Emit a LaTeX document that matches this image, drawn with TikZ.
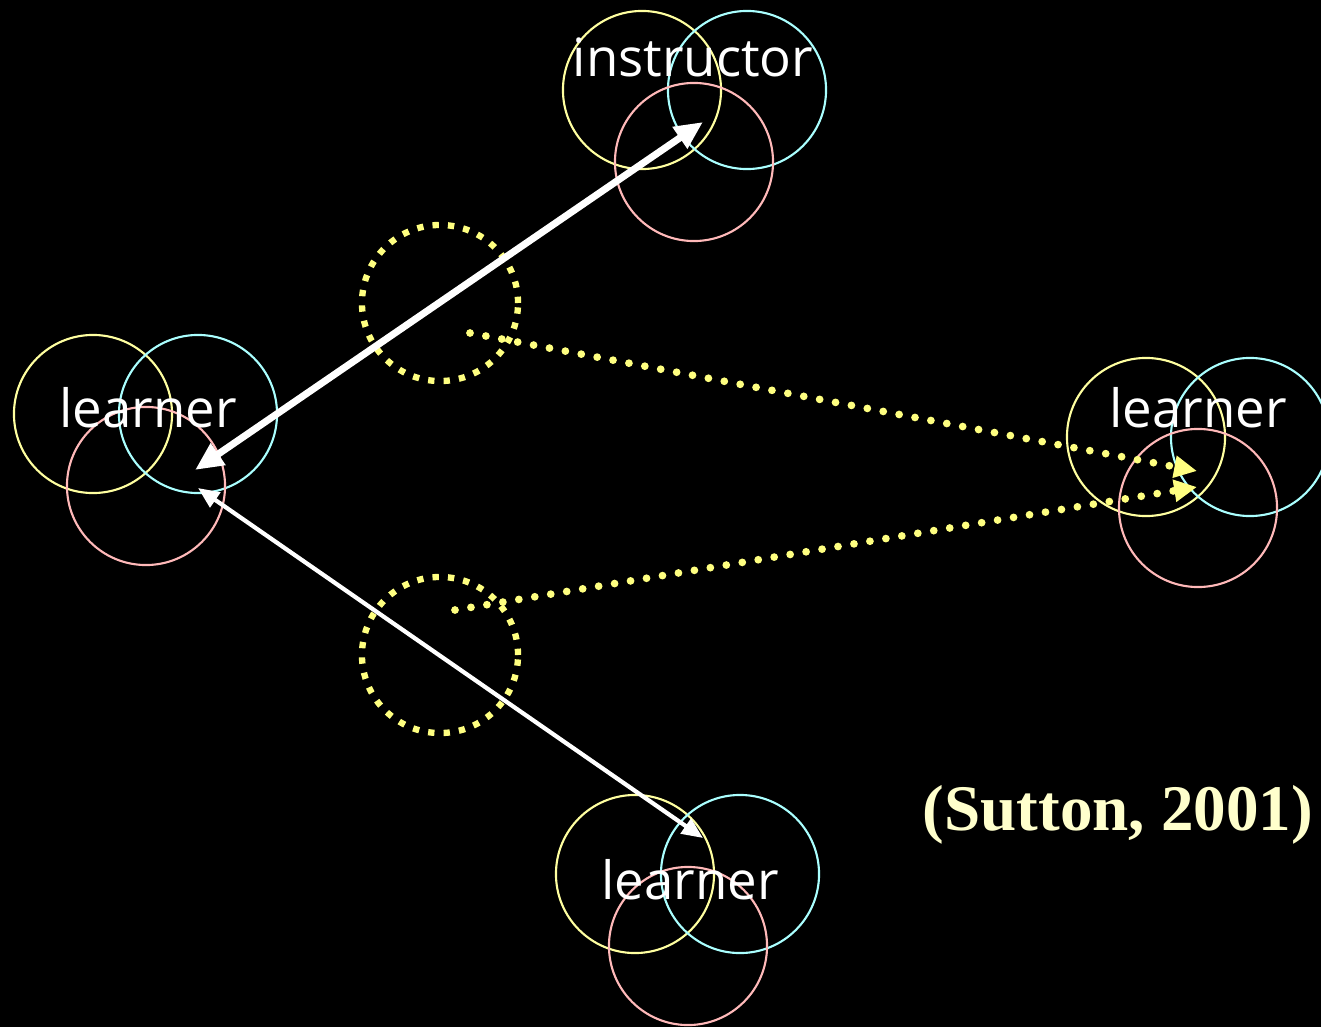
\documentclass[tikz,border=0pt]{standalone}
\usepackage{fontspec}
\setsansfont{Open Sans}
\newfontfamily\citefont{Liberation Serif}
\usepackage{tikz}
\usetikzlibrary{arrows.meta, positioning}
\definecolor{ringyel}{RGB}{255,255,160}
\definecolor{ringcyan}{RGB}{170,255,255}
\definecolor{ringpink}{RGB}{255,185,185}
\definecolor{dotyel}{RGB}{255,255,128}
\definecolor{citeyel}{RGB}{255,255,204}
\tikzset{
  ring/.style={circle, minimum size=1.58cm, inner sep=0pt, line width=0.6pt},
  ringy/.style={ring, draw=ringyel},
  ringc/.style={ring, draw=ringcyan},
  ringp/.style={ring, draw=ringpink},
  role/.style={text=white, font=\sffamily\fontsize{15}{18}\selectfont, inner sep=0pt},
  dotring/.style={circle, minimum size=1.56cm, inner sep=0pt, draw=dotyel,
    line width=1.8pt, dash pattern=on 1.8pt off 2.6pt},
  thickarrow/.style={{Triangle[length=8pt,width=7pt]}-{Triangle[length=8pt,width=7pt]},
    line width=2pt, white},
  thinarrow/.style={{Triangle[length=6pt,width=5pt]}-{Triangle[length=6pt,width=5pt]},
    line width=1.2pt, white},
  dotarrow/.style={-{Triangle[length=6.5pt,width=6pt]}, dotyel, line width=2.2pt,
    line cap=round, dash pattern=on 0pt off 4.6pt}
}

\begin{document}
\begin{tikzpicture}[x=0.01cm, y=-0.01cm]
  % Background
  \fill[black] (0,0) rectangle (1321,1027);
  \useasboundingbox (0,0) rectangle (1321,1027);
  % Instructor
  \node[ringy] (instrY) at (642,90) {};
  \node[ringc] (instrC) at (747,90) {};
  \node[ringp] (instrP) at (694,162) {};
  \node[role] (instr) at (693,57) {instructor};
  % Left learner
  \node[ringy] (leftY) at (93,414) {};
  \node[ringc] (leftC) at (198,414) {};
  \node[ringp] (leftP) at (146,486) {};
  \node[role] (leftL) at (148,408) {learner};
  % Right learner
  \node[ringy] (rightY) at (1146,437) {};
  \node[ringc] (rightC) at (1250,437) {};
  \node[ringp] (rightP) at (1198,508) {};
  \node[role] (rightL) at (1198,408) {learner};
  % Bottom learner
  \node[ringy] (botY) at (635,874) {};
  \node[ringc] (botC) at (740,874) {};
  \node[ringp] (botP) at (688,946) {};
  \node[role] (botL) at (690,880) {learner};
  % Observers
  \node[dotring] (obsTop) at (440,303) {};
  \node[dotring] (obsBot) at (440,655) {};
  % Arrow ends
  \coordinate (instrTip) at (703,122);
  \coordinate (leftTipA) at (195,470);
  \coordinate (leftTipB) at (198,488);
  \coordinate (botTip) at (703,838);
  \coordinate (obsTopSrc) at (470,333);
  \coordinate (obsBotSrc) at (455,610);
  \coordinate (rightTipA) at (1197,471);
  \coordinate (rightTipB) at (1197,487);
  % Connectors
  \draw[thickarrow] (leftTipA) -- (instrTip);
  \draw[thinarrow] (leftTipB) -- (botTip);
  \draw[dotarrow] (obsTopSrc) -- (rightTipA);
  \draw[dotarrow] (obsBotSrc) -- (rightTipB);
  % Citation
  \node[anchor=west, text=citeyel, font=\citefont\bfseries\fontsize{18.5}{22}\selectfont, inner sep=0pt] (cite) at (922,815) {(Sutton, 2001)};
\end{tikzpicture}
\end{document}
